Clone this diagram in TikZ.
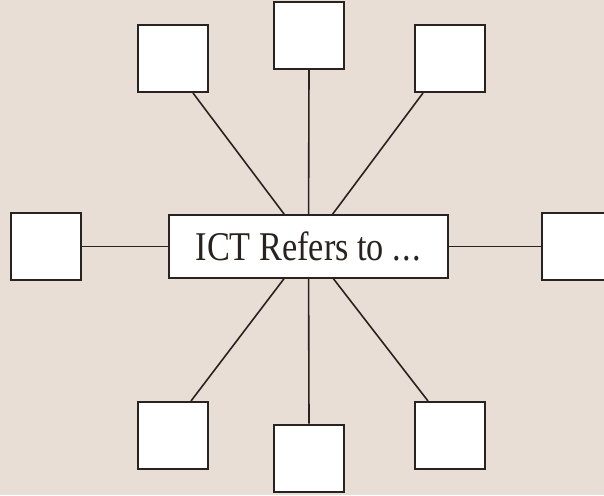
\documentclass[tikz,border=0pt]{standalone}
\usepackage{fontspec}
\newfontfamily\condserif[FakeStretch=0.84]{Liberation Serif}
\usetikzlibrary{calc}
\definecolor{bgcol}{RGB}{233,222,214}
\definecolor{ink}{RGB}{40,34,32}
\pgfdeclarelayer{paper}
\pgfdeclarelayer{wires}
\pgfsetlayers{paper,wires,main}
\tikzset{
  smallbox/.style={draw=ink, fill=white, line width=2pt, minimum width=70pt, minimum height=67pt, inner sep=0pt},
  centerbox/.style={draw=ink, fill=white, line width=2.4pt, minimum width=279pt, minimum height=63pt, inner sep=0pt, font=\condserif\fontsize{40.8}{44}\selectfont, text=ink},
  wire/.style={draw=ink, line width=1.6pt}
}
\begin{document}
\begin{tikzpicture}[x=1pt,y=-1pt]
\begin{pgfonlayer}{paper}
\fill[bgcol] (0,0) rectangle (604,495);
\end{pgfonlayer}
\useasboundingbox (0,0) rectangle (604,495);
\node[centerbox] (c) at (308.5,246.5) {ICT Refers to .\kern1.5pt.\kern1.5pt.};
\node[smallbox] (tl) at (173,58.5) {};
\node[smallbox] (t) at (309,35.5) {};
\node[smallbox] (tr) at (450,58.5) {};
\node[smallbox] (l) at (46,246.5) {};
\node[smallbox] (r) at (577,246.5) {};
\node[smallbox] (bl) at (173,435.5) {};
\node[smallbox] (b) at (309,458) {};
\node[smallbox] (br) at (449.5,435.5) {};
\coordinate (tla) at ($(tl.south)+(20,0)$);
\coordinate (tra) at ($(tr.south)+(-27,0)$);
\coordinate (bla) at ($(bl.north)+(18,0)$);
\coordinate (bra) at ($(br.north)+(-21.5,0)$);
\begin{pgfonlayer}{wires}
\draw[wire] (c.center) -- (tla);
\draw[wire] (c.center) -- (tra);
\draw[wire] (c.center) -- (bla);
\draw[wire] (c.center) -- (bra);
\draw[wire] (c.center) -- (t.south);
\draw[wire] (c.center) -- (b.north);
\draw[wire] (c.center) -- (l.east);
\draw[wire] (c.center) -- (r.west);
\end{pgfonlayer}
\end{tikzpicture}
\end{document}
